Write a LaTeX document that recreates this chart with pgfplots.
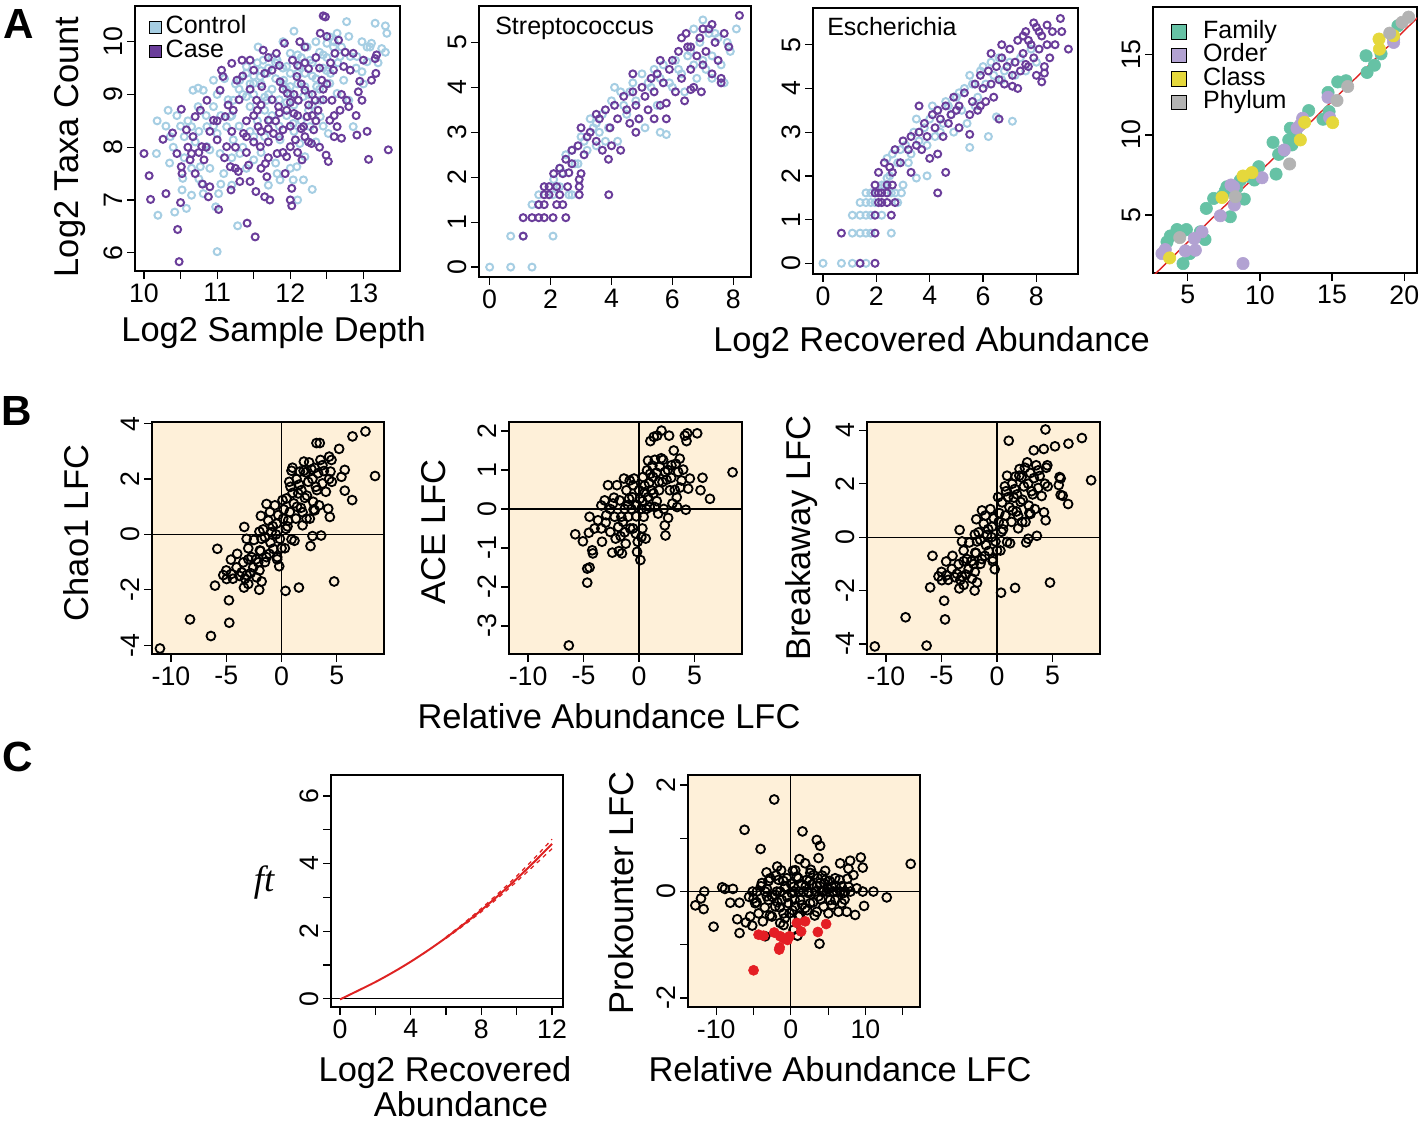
\documentclass[border=0pt]{standalone}
\usepackage{fontspec}
\setmainfont{Liberation Sans}
\newfontfamily\timesfont{Liberation Serif}
\usepackage{pgfplots}
\pgfplotsset{compat=1.18}

\definecolor{ctrl}{RGB}{166,206,227}
\definecolor{casec}{RGB}{106,61,154}
\definecolor{fam}{RGB}{102,194,165}
\definecolor{ord}{RGB}{178,162,210}
\definecolor{cls}{RGB}{229,216,60}
\definecolor{phy}{RGB}{179,179,179}
\definecolor{bgc}{RGB}{254,240,217}
\definecolor{redpt}{RGB}{228,30,36}
\definecolor{redline}{RGB}{222,34,34}

\newcommand\tickfont{\fontsize{19}{19}\selectfont}
\newcommand\labfont{\fontsize{24.5}{24.5}\selectfont}
\newcommand\txtfont{\fontsize{17.8}{17.8}\selectfont}

\pgfplotsset{
 Rax/.style={
  scale only axis, anchor=north west,
  axis line style={line width=1.1pt},
  tick style={black, line width=0.9pt},
  tick align=outside, major tick length=2mm,
  xtick pos=left, ytick pos=left,
  tick label style={font=\tickfont},
  xticklabel style={inner sep=3pt},
  yticklabel style={rotate=90, anchor=south, inner sep=3pt},
  /pgf/number format/assume math mode=true,
 },
 Aopen/.style={only marks, mark=o, mark size=2.5pt, mark options={line width=1.4pt}, forget plot},
 Bopen/.style={only marks, mark=o, mark size=3.15pt, mark options={line width=1.3pt}, black, forget plot},
 zline/.style={black, line width=0.9pt, forget plot},
 sqlegA/.style={legend image code/.code={\draw[black,line width=0.5pt,fill=#1] (0pt,-4.3pt) rectangle (8.6pt,4.3pt);}},
 sqlegD/.style={legend image code/.code={\draw[black,line width=0.5pt,fill=#1] (0pt,-5.2pt) rectangle (10.4pt,5.2pt);}},
}

\begin{document}
\begin{tikzpicture}
\useasboundingbox (0,0) rectangle (356mm,-281mm);

% ---------------- A1 ----------------
\begin{axis}[Rax, at={(33.75mm,-1.5mm)}, width=66.25mm, height=66.25mm,
 xmin=9.877, xmax=13.50, ymin=5.653, ymax=10.677,
 xtick={10,10.5,11,11.5,12,12.5,13}, xticklabels={10,,11,,12,,13},
 ytick={6,7,8,9,10}, yticklabels={6,7,8,9,10},
 legend style={at={(0.0528,0.962)}, anchor=north west, draw=none, fill=none, inner sep=0pt, outer sep=0pt,
   row sep=0.87pt, font=\txtfont, nodes={inner sep=0pt, text height=12.7pt, text depth=3.5pt},
   /tikz/every odd column/.append style={column sep=2.8pt}},
 legend cell align=left]
\addlegendimage{sqlegA=ctrl}
\addlegendentry{Control}
\addlegendimage{sqlegA=casec}
\addlegendentry{Case}
\addplot[Aopen, ctrl] coordinates {
(10.18,8.50)(10.17,7.88)(10.19,6.71)(10.33,8.70)(10.42,6.77)(10.36,8.20)(10.52,7.19)(10.53,7.41)(10.58,6.84)(10.65,7.09)
(10.67,9.08)(10.74,9.12)(10.81,9.08)(10.79,7.31)(10.81,7.12)(11.0,6.02)(11.02,7.12)(10.98,6.87)(11.28,6.51)(11.20,7.28)
(10.95,9.27)(10.65,8.39)(10.74,8.77)(10.86,8.39)(10.90,7.95)(11.09,7.50)(11.13,8.39)(11.22,8.89)(11.31,9.27)(11.40,9.53)
(11.50,9.21)(11.56,9.90)(11.63,9.65)(11.68,8.89)(11.70,7.28)(11.82,7.50)(11.86,7.38)(11.95,9.53)(12.0,9.78)(12.04,7.38)
(12.09,7.63)(12.18,7.38)(12.20,7.82)(12.13,9.53)(12.23,9.90)(12.27,9.65)(12.36,9.15)(12.41,8.89)(12.50,9.97)(12.54,10.09)
(12.59,9.90)(12.64,10.16)(12.68,9.72)(12.73,9.27)(12.77,10.38)(12.80,8.89)(12.86,8.39)(12.91,9.72)(12.98,10.0)(12.98,9.43)
(13.05,9.62)(13.09,9.90)(13.16,10.35)(13.25,9.87)(13.30,10.30)(13.32,10.16)(13.05,9.9)(13.11,9.97)(12.52,8.26)(12.41,8.58)
(12.18,8.96)(11.91,9.27)(11.68,9.40)(11.45,8.77)(11.22,8.14)(11.04,7.88)(11.31,7.88)(11.50,8.20)(11.86,8.14)(12.04,8.45)
(12.27,8.39)(12.54,9.21)(12.64,9.02)(12.82,9.72)(12.0,9.15)(11.82,9.65)(11.59,9.34)(11.40,8.96)(11.18,8.58)(10.95,8.77)
(10.86,8.01)(10.77,7.63)(11.0,8.26)(11.50,7.76)(11.72,8.51)(12.13,8.07)
(11.3,9.1)(11.4,9.4)(11.5,9.0)(11.55,9.6)(11.6,9.2)(11.65,8.7)(11.7,9.5)(11.75,9.1)(11.8,9.3)(11.85,8.9)
(11.9,9.5)(11.95,9.1)(12.0,9.4)(12.05,8.8)(12.1,9.2)(12.15,9.7)(12.2,9.4)(12.25,9.0)(12.3,9.6)(12.35,9.3)
(12.4,9.8)(12.45,9.5)(12.5,9.7)(12.55,9.4)(12.6,10.0)(12.65,9.6)(12.7,9.9)(11.2,8.6)(11.3,8.4)(11.35,8.0)
(11.45,8.3)(11.55,8.5)(11.65,8.2)(11.75,8.6)(11.85,8.4)(11.95,8.6)(12.05,8.3)(12.15,8.5)(12.25,8.7)(12.35,8.1)
(12.45,8.4)(11.0,9.0)(11.1,9.3)(11.15,8.9)(11.05,8.6)(10.95,8.4)(10.85,8.6)(10.75,8.3)(10.7,8.1)(10.6,8.5)
(10.55,8.2)(10.5,8.4)(10.4,8.0)(10.45,8.6)(10.3,8.4)(10.35,7.7)(10.55,7.8)(10.65,7.6)(10.75,7.4)(10.9,7.6)
(11.05,7.3)(11.2,7.8)(11.4,7.6)(11.6,7.9)(11.8,7.7)(12.0,7.6)(12.3,7.2)(12.1,7.0)(11.9,10.0)(12.05,10.2)
(12.35,10.0)(12.8,10.1)(12.9,9.5)(13.0,9.2)(13.2,9.6)(13.3,9.8)
(11.35,9.0)(11.45,9.2)(11.6,9.45)(11.7,9.0)(11.8,9.6)(11.9,9.2)(12.0,9.0)(12.1,9.4)(12.2,9.15)(12.3,9.35)
(12.4,9.1)(12.5,9.45)(11.25,9.2)(11.5,9.35)(11.75,9.7)(12.1,9.75)(12.45,9.75)(11.65,8.95)(11.95,8.85)(12.3,8.8)
};
\addplot[Aopen, casec] coordinates {
(10.0,7.88)(10.07,7.46)(10.09,7.01)(10.30,7.12)(10.26,8.15)(10.39,8.27)(10.46,6.44)(10.48,5.83)(10.50,6.95)(10.51,7.63)
(10.51,8.72)(10.45,7.88)(10.52,7.50)(10.58,8.33)(10.63,7.76)(10.65,7.88)(10.67,8.20)(10.70,8.58)(10.77,8.70)(10.79,8.01)
(10.82,7.76)(10.86,8.89)(10.88,7.06)(10.90,7.25)(10.95,8.51)(11.0,8.14)(11.02,6.82)(11.04,9.08)(11.06,9.46)(11.08,9.34)
(11.11,8.58)(11.13,8.01)(11.18,7.63)(11.19,7.19)(11.20,9.59)(11.22,8.70)(11.27,9.27)(11.29,7.54)(11.31,7.35)(11.34,9.65)
(11.36,8.26)(11.41,6.56)(11.43,7.66)(11.45,7.35)(11.50,9.46)(11.52,6.30)(11.53,7.16)(11.54,8.89)(11.56,8.39)(11.59,8.01)
(11.61,9.15)(11.63,9.84)(11.65,7.06)(11.66,7.69)(11.68,7.44)(11.70,8.51)(11.72,7.00)(11.75,9.46)(11.77,8.26)(11.81,9.78)
(11.82,7.88)(11.84,8.77)(11.86,9.24)(11.90,8.33)(11.92,9.97)(11.93,7.50)(11.95,7.82)(11.96,9.02)(12.0,8.01)(12.0,7.0)
(12.02,6.89)(12.02,7.22)(12.03,9.65)(12.05,8.64)(12.07,8.14)(12.09,9.34)(12.11,8.89)(12.13,10.0)(12.16,7.76)(12.18,8.39)
(12.20,9.08)(12.23,8.58)(12.25,9.49)(12.29,8.07)(12.32,8.33)(12.34,8.89)(12.38,8.70)(12.41,10.16)(12.43,9.27)(12.45,10.49)
(12.48,10.47)(12.49,7.85)(12.52,7.73)(12.54,8.51)(12.57,8.89)(12.59,9.46)(12.61,9.78)(12.64,8.39)(12.66,10.03)(12.68,8.70)
(12.70,8.17)(12.73,9.53)(12.77,8.89)(12.80,8.77)(12.82,9.46)(12.86,9.78)(12.91,8.23)(12.93,9.05)(12.98,8.89)(13.0,9.65)
(13.07,7.77)(13.11,9.27)(13.16,9.68)(13.17,9.40)(13.34,7.95)(13.18,9.75)
(11.3,8.9)(11.4,8.5)(11.45,9.1)(11.55,8.7)(11.6,8.3)(11.65,9.4)(11.7,8.1)(11.75,8.9)(11.8,8.5)(11.85,8.2)
(11.9,9.1)(11.95,8.7)(12.0,8.4)(12.05,9.0)(12.1,8.6)(12.15,9.2)(12.2,8.2)(12.25,8.8)(12.3,9.0)(12.35,8.5)
(12.4,9.5)(12.45,8.9)(12.5,9.2)(12.55,9.6)(12.6,8.6)(11.2,8.3)(11.25,8.0)(11.15,8.8)(11.0,8.5)(10.9,8.3)
(10.85,8.0)(10.75,7.9)(10.7,7.5)(10.6,8.0)(10.8,7.3)(11.1,7.8)(11.25,7.6)(11.4,7.9)(11.5,8.1)(11.6,7.6)
(11.7,7.8)(11.9,7.9)(12.1,7.9)(12.25,8.1)(12.4,8.0)(12.6,8.2)(12.7,9.0)(12.9,8.6)(13.05,8.3)(12.35,9.7)
(12.2,9.9)(12.1,9.55)(11.85,9.55)(11.7,9.7)(11.45,9.65)(11.35,9.35)(12.5,10.1)(12.75,9.8)(12.95,9.25)
(11.5,8.6)(11.7,8.35)(11.85,8.65)(12.0,8.85)(12.15,8.35)(12.3,8.6)(11.4,8.2)(11.6,8.8)(12.2,9.6)(12.45,9.1)
};
\end{axis}

% ---------------- A2 ----------------
\begin{axis}[Rax, at={(119.75mm,-1.5mm)}, width=68mm, height=67.75mm,
 xmin=-0.35, xmax=8.58, ymin=-0.22, ymax=5.81,
 xtick={0,2,4,6,8}, xticklabels={0,2,4,6,8},
 ytick={0,1,2,3,4,5}, yticklabels={0,1,2,3,4,5}]
\addplot[Aopen, ctrl] coordinates {
(0,0)(0.69,0)(1.39,0)(0.69,0.69)(1.1,0.69)(2.08,0.69)(1.39,1.39)(1.61,1.61)(2.08,1.61)(2.3,1.79)
(2.6,1.61)(2.7,1.61)(2.1,1.95)(2.3,2.2)(2.5,2.5)(2.8,2.3)(3.0,2.9)(3.2,2.6)(3.4,3.1)(3.5,2.7)
(3.7,3.4)(3.9,3.1)(4.0,3.7)(4.2,2.8)(4.3,3.9)(4.5,3.4)(4.7,4.1)(4.8,3.7)(5.0,4.3)(5.1,3.1)
(5.3,4.0)(5.5,3.6)(5.6,3.0)(5.7,4.5)(5.8,2.95)(5.9,4.1)(6.1,4.6)(6.3,4.3)(6.5,4.7)(6.7,4.5)
(6.9,5.0)(7.0,5.5)(7.1,4.4)(7.2,5.2)(7.3,4.7)(7.5,5.1)(7.6,4.5)(7.7,4.1)(7.9,4.8)(8.1,5.3)
(6.0,4.0)(5.4,4.4)(4.4,3.6)(3.6,3.0)(3.3,3.3)(4.1,4.0)(6.7,5.3)(7.4,5.2)(6.4,3.9)(7.3,4.2)
(3.8,2.8)(4.9,3.3)(2.9,2.3)(2.4,2.1)(6.8,4.2)(2.7,2.6)(3.1,2.8)(3.5,3.2)(4.6,3.9)(5.2,4.1)
(5.6,4.2)(6.2,4.4)(6.6,4.8)(7.0,4.6)(7.8,5.0)(2.2,1.79)(1.61,1.39)
};
\addplot[Aopen, casec] coordinates {
(1.1,0.69)(1.1,1.1)(1.39,1.1)(1.61,1.1)(1.79,1.1)(2.08,1.1)(2.5,1.1)(1.61,1.39)(1.79,1.39)(2.2,1.39)
(2.4,1.39)(1.79,1.61)(1.95,1.61)(2.3,1.61)(2.94,1.61)(3.91,1.61)(1.79,1.79)(1.95,1.79)(2.2,1.79)(2.56,1.79)
(2.94,1.79)(2.1,2.08)(2.3,2.2)(2.4,2.08)(2.94,1.95)(3.0,2.08)
(2.5,2.4)(2.7,2.6)(2.9,2.7)(3.1,2.5)(3.2,2.9)(3.3,3.0)(3.5,2.8)(3.6,3.3)(3.7,2.6)(3.8,3.5)
(3.9,2.4)(3.95,3.1)(4.0,2.7)(4.1,3.6)(4.2,3.3)(4.3,2.6)(4.4,3.8)(4.5,3.5)(4.6,3.2)(4.7,3.9)
(4.8,3.6)(4.9,3.3)(5.0,4.0)(5.1,3.8)(5.2,3.5)(5.3,4.2)(5.4,3.9)(5.5,4.3)(5.6,3.6)(5.7,4.1)
(5.8,3.3)(5.9,4.4)(6.0,4.6)(6.1,3.9)(6.2,4.8)(6.3,4.2)(6.4,3.7)(6.5,4.9)(6.6,4.4)(6.7,4.0)
(6.8,4.7)(6.9,5.1)(7.0,4.5)(7.1,4.8)(7.2,5.3)(7.3,4.3)(7.4,5.0)(7.5,4.6)(7.6,4.2)(7.7,5.2)
(7.85,4.9)(8.2,5.6)(7.0,5.3)(6.3,5.1)(5.6,4.6)(4.7,4.3)(3.5,3.4)(3.0,3.1)(2.7,2.3)(2.6,2.1)
(6.6,4.9)(6.95,3.9)(6.6,3.95)(7.6,4.1)(5.4,3.3)(5.8,3.65)(4.8,3.0)(7.3,5.4)(6.45,5.2)
};
\end{axis}

% ---------------- A3 ----------------
\begin{axis}[Rax, at={(203.25mm,-2.0mm)}, width=66.25mm, height=66.5mm,
 xmin=-0.375, xmax=9.56, ymin=-0.245, ymax=5.84,
 xtick={0,2,4,6,8}, xticklabels={0,2,4,6,8},
 ytick={0,1,2,3,4,5}, yticklabels={0,1,2,3,4,5}]
\addplot[Aopen, ctrl] coordinates {
(0,0)(0.69,0)(1.1,0)(1.61,0)(1.1,0.69)(1.39,0.69)(1.61,0.69)(1.79,0.69)(2.56,0.69)(1.1,1.1)
(1.39,1.1)(1.61,1.1)(1.79,1.1)(2.2,1.1)(1.39,1.39)(1.61,1.39)(1.79,1.39)(1.95,1.39)(2.8,1.39)(1.61,1.61)
(1.79,1.61)(2.56,1.61)(2.7,1.61)(2.94,1.61)(2.2,1.79)(2.3,1.79)(3.0,1.79)(2.4,1.95)(3.5,1.95)(3.9,2.0)
(2.4,2.4)(2.6,2.5)(2.8,2.3)(2.9,2.6)(3.1,2.7)(3.3,2.5)(3.4,3.0)(3.6,2.8)(3.8,3.1)(3.9,2.7)
(4.0,3.3)(4.2,2.9)(4.3,3.5)(4.5,3.2)(4.6,3.7)(4.8,3.4)(4.9,3.0)(5.0,3.8)(5.2,3.5)(5.3,4.0)
(5.4,3.2)(5.5,2.65)(5.6,4.1)(5.8,3.8)(5.9,4.4)(6.1,4.1)(6.2,2.9)(6.3,4.6)(6.4,4.3)(6.5,3.35)
(6.6,4.7)(6.8,4.4)(7.0,4.6)(7.1,3.25)(7.2,4.3)(7.4,4.7)(7.6,4.4)(7.8,4.9)(8.0,4.6)(4.7,3.6)
(5.1,3.9)(3.5,3.3)(4.4,3.0)(5.7,3.6)(6.0,4.5)(6.7,4.2)(2.5,2.0)(3.2,2.3)(4.1,3.6)(5.5,4.3)
};
\addplot[Aopen, casec] coordinates {
(1.39,0)(1.95,0)(0.69,0.69)(1.95,0.69)(1.95,1.1)(2.56,1.1)(2.08,1.39)(2.2,1.39)(2.4,1.39)(2.7,1.39)
(1.95,1.61)(2.08,1.61)(2.2,1.61)(2.4,1.61)(4.3,1.61)(1.95,1.79)(2.4,1.79)(2.6,1.79)(2.08,2.08)(2.6,2.08)
(3.3,2.08)(4.6,2.08)
(2.3,2.3)(2.5,2.2)(2.7,2.6)(2.9,2.3)(3.0,2.8)(3.2,2.6)(3.3,2.9)(3.5,2.7)(3.6,3.0)(3.7,2.6)
(3.8,3.2)(3.9,2.9)(4.0,2.4)(4.1,3.4)(4.2,3.1)(4.3,2.5)(4.4,3.3)(4.5,2.9)(4.6,3.6)(4.7,3.2)
(4.8,3.4)(4.9,3.8)(5.0,3.5)(5.1,3.1)(5.3,3.9)(5.5,3.4)(5.5,2.95)(5.6,3.7)(5.7,4.1)(5.8,3.5)
(5.9,4.3)(6.0,4.0)(6.1,3.7)(6.2,4.4)(6.3,4.1)(6.4,3.8)(6.5,4.5)(6.6,4.2)(6.7,4.7)(6.8,4.1)
(6.9,4.5)(7.0,4.9)(7.1,4.3)(7.2,4.6)(7.3,5.1)(7.4,4.4)(7.5,4.8)(7.6,5.3)(7.7,4.5)(7.8,5.0)
(7.9,4.7)(8.0,5.4)(8.1,4.9)(8.2,5.2)(8.3,4.5)(8.4,5.0)(8.5,4.7)(8.6,5.3)(8.7,5.0)(8.9,5.6)
(8.95,5.3)(9.2,4.9)(8.2,4.15)(8.3,4.35)(7.6,4.55)(7.1,4.05)(6.6,3.3)(3.6,3.6)(4.3,3.5)(5.1,3.6)
(7.9,5.5)(8.0,4.3)(6.7,5.0)(7.3,4.0)(7.7,5.1)(8.4,5.45)(5.9,3.6)(6.3,4.8)(7.5,5.2)(8.1,5.3)
};
\end{axis}

% ---------------- A4 ----------------
\begin{axis}[Rax, at={(288.25mm,-1.75mm)}, width=66mm, height=66.5mm,
 xmin=2.60, xmax=20.88, ymin=1.39, ymax=17.98,
 xtick={5,10,15,20}, xticklabels={5,10,15,20},
 ytick={5,10,15}, yticklabels={5,10,15},
 legend style={at={(0.068,0.9496)}, anchor=north west, draw=none, fill=none, inner sep=0pt, outer sep=0pt,
   row sep=0.5pt, font=\txtfont, nodes={inner sep=0pt, text height=12.7pt, text depth=3.5pt},
   /tikz/every odd column/.append style={column sep=12pt}},
 legend cell align=left]
\addlegendimage{sqlegD=fam}\addlegendentry{Family}
\addlegendimage{sqlegD=ord}\addlegendentry{Order}
\addlegendimage{sqlegD=cls}\addlegendentry{Class}
\addlegendimage{sqlegD=phy}\addlegendentry{Phylum}
\addplot[only marks, mark=*, mark size=4.4pt, fam, mark options={draw=none}, forget plot] coordinates {
(3.57,3.33)(4.26,4.10)(4.68,1.98)(5.14,2.60)(4.91,4.10)(6.29,5.42)(6.20,3.48)(6.80,6.04)(7.72,6.77)(7.95,4.90)
(8.92,6.0)(8.65,7.19)(9.62,7.19)(9.92,8.02)(10.91,9.54)(11.12,7.56)(11.30,8.79)(12.11,10.42)(12.22,9.38)(12.0,9.69)
(13.38,11.52)(14.37,10.98)(14.72,12.65)(14.79,11.46)(15.39,13.31)(15.96,13.38)(17.35,14.94)(17.42,13.90)(17.93,14.35)(18.39,15.06)
(19.56,16.81)(3.8,3.7)(7.6,6.5)(8.4,6.7)(4.5,3.85)(5.88,3.96)(7.4,6.2)(9.3,7.4)(11.6,9.0)(12.5,10.0)
};
\addplot[only marks, mark=*, mark size=4.4pt, ord, mark options={draw=none}, forget plot] coordinates {
(3.22,2.60)(3.45,2.85)(4.84,2.77)(5.53,2.81)(5.46,3.54)(5.99,3.96)(7.26,4.96)(8.0,6.88)(8.23,5.63)(8.83,1.98)
(10.15,7.33)(11.69,9.06)(12.8,10.63)(12.96,11.04)(14.72,12.35)(14.83,11.08)(19.26,15.77)(19.26,15.98)(8.18,6.77)(12.57,10.42)
};
\addplot[only marks, mark=*, mark size=4.4pt, cls, mark options={draw=none}, forget plot] coordinates {
(3.75,2.33)(7.38,6.10)(8.83,7.44)(9.45,7.65)(12.8,9.69)(13.1,10.79)(15.04,10.77)(18.25,15.98)(18.28,15.35)(19.26,16.19)
};
\addplot[only marks, mark=*, mark size=4.4pt, phy, mark options={draw=none}, forget plot] coordinates {
(4.45,3.60)(8.3,6.15)(12.06,8.19)(15.34,12.15)(16.08,13.02)(18.99,16.35)(19.84,17.02)(20.3,17.35)
};
\addplot[redline, line width=1pt, forget plot] coordinates {(2.0,0.67) (21.5,17.83)};
\end{axis}

% ---------------- B1 ----------------
\begin{axis}[Rax, at={(38mm,-105.5mm)}, width=58mm, height=58mm, axis background/.style={fill=bgc},
 xmin=-11.72, xmax=9.27, ymin=-4.32, ymax=4.06,
 xtick={-10,-5,0,5}, xticklabels={-10,-5,0,5},
 ytick={-4,-2,0,2,4}, yticklabels={-4,-2,0,2,4}]
\addplot[zline] coordinates {(0,-10) (0,10)};
\addplot[zline] coordinates {(-20,0) (20,0)};
\addplot[Bopen] coordinates {
(-11.0,-4.12)(-8.28,-3.07)(-6.39,-3.67)(-4.73,-3.19)(-4.76,-2.38)(-5.81,-0.52)(-6.02,-1.85)(-5.27,-1.47)(-4.97,-1.61)(-4.55,-1.43)
(-4.58,-0.91)(-4.07,-1.19)(-4.01,-0.70)(-3.61,-1.37)(-3.46,-1.01)(-3.40,-1.92)(-3.16,-1.47)(-3.01,-1.79)(-3.37,0.27)(-3.16,-0.16)
(-3.01,-0.50)(-2.71,-0.82)(-2.56,-1.19)(-2.26,-1.55)(-2.02,-2.0)(-2.11,-1.01)(-1.96,-0.58)(-1.81,-0.16)(-1.87,0.67)(-1.66,0.18)
(-1.51,-0.10)(-1.36,1.10)(-1.36,-0.82)(-1.05,0.81)(-0.90,0.08)(-0.75,-0.52)(-0.60,1.05)(-0.45,0.39)(-0.39,-0.82)(-0.21,-1.15)
(-0.15,-0.16)(0.09,1.24)(0.15,0.57)(0.30,-0.50)(0.36,-2.04)(0.45,1.30)(0.54,0.29)(0.75,0.81)(0.81,1.72)(0.90,-0.18)
(0.99,2.41)(1.11,1.12)(1.17,-0.23)(1.30,0.57)(1.36,2.0)(1.51,1.48)(1.57,-1.92)(1.66,2.27)(1.75,0.96)(1.90,0.33)
(2.02,2.63)(2.11,1.32)(2.20,2.24)(2.26,0.57)(2.41,1.90)(2.56,0.57)(2.62,-0.42)(2.71,2.35)(2.80,-0.06)(2.86,1.18)
(3.01,0.87)(3.10,1.72)(3.16,3.30)(3.46,3.30)(3.31,2.21)(3.40,1.05)(3.52,2.69)(3.58,-0.04)(3.70,1.84)(3.83,2.29)
(4.01,1.54)(4.22,0.93)(4.31,2.81)(4.37,0.63)(4.43,2.27)(4.52,2.69)(4.55,1.90)(4.76,-1.70)(5.21,3.09)(5.42,2.08)
(5.72,2.33)(5.72,1.58)(6.42,3.54)(6.39,1.24)(7.59,3.72)(8.46,2.11)
(-2.5,-0.2)(-2.0,0.1)(-1.2,0.5)(-0.8,0.3)(-0.3,0.7)(0.2,0.9)(0.6,0.5)(1.0,1.5)(1.4,1.0)(1.8,1.6)
(2.3,1.4)(2.8,2.0)(3.2,1.6)(-1.0,-0.3)(-0.5,0.0)(0.0,-0.5)(0.4,0.2)(-3.8,-1.5)(-3.3,-1.6)(-2.8,-1.4)
(-2.3,-0.9)(-1.9,-0.6)(-1.5,-1.0)(-1.1,-0.7)(0.7,1.9)(1.6,1.8)(2.5,2.6)(3.7,2.5)(4.3,2.0)(2.9,0.9)
(1.9,0.8)(-0.4,-0.9)(-4.4,-1.6)(-5.0,-1.3)(-3.0,-0.9)(-2.0,-1.3)(-1.8,-1.7)(0.9,2.3)(2.0,2.3)(3.0,2.4)
};
\end{axis}

% ---------------- B2 ----------------
\begin{axis}[Rax, at={(127.25mm,-105.5mm)}, width=58.25mm, height=58mm, axis background/.style={fill=bgc},
 xmin=-11.72, xmax=9.28, ymin=-3.72, ymax=2.23,
 xtick={-10,-5,0,5}, xticklabels={-10,-5,0,5},
 ytick={-3,-2,-1,0,1,2}, yticklabels={-3,-2,-1,0,1,2}]
\addplot[zline] coordinates {(0,-10) (0,10)};
\addplot[zline] coordinates {(-20,0) (20,0)};
\addplot[Bopen] coordinates {
(-6.33,-3.50)(-5.75,-0.65)(-5.06,-0.83)(-4.67,-1.53)(-4.46,-1.50)(-4.67,-1.89)(-4.46,-0.20)(-4.52,-0.61)(-4.22,-1.06)(-4.16,-1.14)
(-4.01,-0.50)(-3.70,-0.29)(-3.40,0.09)(-3.40,-0.50)(-3.34,-0.84)(-3.10,0.22)(-2.95,-0.16)(-2.80,0.61)(-2.59,-0.59)(-2.41,-1.12)
(-2.35,0.14)(-2.26,0.29)(-2.20,-0.20)(-2.11,-0.76)(-1.99,0.61)(-1.87,-0.46)(-1.81,-1.08)(-1.75,0.22)(-1.66,-0.70)(-1.54,-1.14)
(-1.45,-0.33)(-1.36,0.78)(-1.30,0.0)(-1.20,-0.89)(-1.14,0.48)(-0.99,-0.20)(-0.90,0.26)(-0.84,0.73)(-0.69,0.0)(-0.54,-0.50)
(-0.54,0.61)(-0.45,0.78)(-0.30,-0.63)(-0.24,-0.19)(-0.18,-1.10)(-0.12,-0.84)(0.0,0.48)(0.06,0.26)(0.12,-1.31)(0.21,0.0)
(0.21,-0.72)(0.30,-0.50)(0.36,0.82)(0.42,-0.20)(0.51,0.43)(0.60,-0.76)(0.66,0.0)(0.72,0.99)(0.81,1.24)(0.90,0.66)
(0.96,0.05)(1.02,1.74)(1.11,0.48)(1.20,1.11)(1.27,0.82)(1.33,1.85)(1.42,1.26)(1.42,0.05)(1.57,0.93)(1.63,1.88)
(1.72,-0.12)(1.81,0.48)(1.87,1.09)(2.02,2.01)(2.11,0.69)(2.17,1.26)(2.23,0.0)(2.32,-0.42)(2.35,0.95)(2.38,-0.68)
(2.47,0.75)(2.62,-0.23)(2.71,1.88)(2.77,0.48)(2.92,1.12)(3.01,0.14)(3.13,1.50)(3.22,0.49)(3.31,1.16)(3.43,0.05)
(3.52,0.95)(3.67,1.29)(3.83,0.73)(3.98,1.01)(4.13,1.88)(4.22,-0.02)(4.28,1.74)(4.34,1.94)(4.43,0.52)(4.58,0.78)
(5.24,1.94)(5.54,0.48)(5.72,0.80)(6.39,0.26)(8.43,0.94)
(-1.0,0.1)(-0.6,0.3)(-0.2,0.1)(0.3,0.2)(0.8,0.3)(1.3,0.4)(1.8,0.7)(2.6,1.0)(-1.6,-0.2)(-2.6,0.0)
(1.0,0.9)(2.0,1.3)(3.4,0.3)(-0.8,-0.5)(-1.3,-0.6)(0.5,0.6)(1.6,0.2)(2.9,0.8)(3.7,0.55)(-3.0,-0.35)
};
\end{axis}

% ---------------- B3 ----------------
\begin{axis}[Rax, at={(216.75mm,-105.5mm)}, width=58.25mm, height=58mm, axis background/.style={fill=bgc},
 xmin=-11.7, xmax=9.26, ymin=-4.375, ymax=4.31,
 xtick={-10,-5,0,5}, xticklabels={-10,-5,0,5},
 ytick={-4,-2,0,2,4}, yticklabels={-4,-2,0,2,4}]
\addplot[zline] coordinates {(0,-10) (0,10)};
\addplot[zline] coordinates {(-20,0) (20,0)};
\addplot[Bopen] coordinates {
(-11.0,-4.09)(-8.23,-3.0)(-6.34,-4.06)(-4.68,-3.08)(-4.76,-2.38)(-5.81,-0.70)(-6.02,-1.88)(-5.27,-1.47)(-4.97,-1.61)(-4.55,-1.43)
(-4.58,-0.91)(-4.07,-1.19)(-4.01,-0.70)(-3.61,-1.37)(-3.46,-1.01)(-3.40,-1.92)(-3.16,-1.47)(-3.01,-1.79)(-3.37,0.27)(-3.16,-0.16)
(-3.01,-0.50)(-2.71,-0.82)(-2.56,-1.19)(-2.26,-1.55)(-2.02,-2.0)(-2.11,-1.01)(-1.96,-0.58)(-1.81,-0.16)(-1.87,0.67)(-1.66,0.18)
(-1.51,-0.10)(-1.36,1.0)(-1.36,-0.82)(-1.05,0.81)(-0.90,0.08)(-0.75,-0.52)(-0.60,1.05)(-0.45,0.39)(-0.39,-0.82)(-0.21,-1.20)
(-0.15,-0.16)(0.09,1.50)(0.15,0.57)(0.30,-0.50)(0.36,-2.08)(0.45,1.30)(0.54,0.29)(0.75,0.81)(0.81,1.72)(0.90,-0.18)
(1.05,3.61)(1.11,1.12)(1.17,-0.23)(1.30,0.57)(1.36,2.0)(1.51,1.48)(1.62,-1.90)(1.66,2.27)(1.75,0.96)(1.90,0.33)
(2.02,2.55)(2.11,1.32)(2.20,2.24)(2.26,0.57)(2.41,1.90)(2.56,0.57)(2.62,-0.20)(2.71,2.80)(2.80,-0.06)(2.86,1.18)
(3.01,0.87)(3.10,1.72)(3.30,3.25)(3.31,2.21)(3.40,1.05)(3.52,2.69)(3.58,0.05)(3.70,1.84)(3.83,2.29)(4.20,3.30)
(4.01,1.54)(4.22,0.93)(4.35,4.03)(4.37,0.63)(4.43,2.60)(4.52,2.69)(4.55,1.90)(4.76,-1.70)(5.21,3.40)(5.62,2.25)
(5.72,2.20)(5.72,1.58)(6.42,3.50)(6.39,1.24)(7.63,3.71)(8.46,2.13)(5.55,1.95)(5.90,1.55)
(-2.5,-0.2)(-2.0,0.1)(-1.2,0.5)(-0.8,0.3)(-0.3,0.7)(0.2,0.9)(0.6,0.5)(1.0,1.5)(1.4,1.0)(1.8,1.6)
(2.3,1.4)(2.8,2.0)(3.2,1.6)(-1.0,-0.3)(-0.5,0.0)(0.0,-0.5)(0.4,0.2)(-3.8,-1.5)(-3.3,-1.6)(-2.8,-1.4)
(-2.3,-0.9)(-1.9,-0.6)(-1.5,-1.0)(-1.1,-0.7)(0.7,1.9)(1.6,1.8)(2.5,2.6)(3.7,2.5)(4.3,2.0)(2.9,0.9)
(1.9,0.8)(-0.4,-0.9)(-4.4,-1.6)(-5.0,-1.3)(-3.0,-0.9)(-2.0,-1.3)(-1.8,-1.7)(0.9,2.3)(2.0,2.3)(3.0,2.4)
};
\end{axis}

% ---------------- C1 ----------------
\begin{axis}[Rax, at={(82.75mm,-193.75mm)}, width=58mm, height=58mm,
 xmin=-0.51, xmax=12.62, ymin=-0.245, ymax=6.62,
 xtick={0,2,4,6,8,10,12}, xticklabels={0,,4,,8,,12},
 ytick={0,1,2,3,4,5,6}, yticklabels={0,,2,,4,,6}]
\addplot[zline] coordinates {(-2,0) (14,0)};
\addplot[redline, line width=1.4pt, smooth, forget plot] coordinates {
(0,-0.02)(1,0.234)(2,0.494)(3,0.782)(4,1.096)(5,1.438)(6,1.806)(7,2.202)(8,2.624)(9,3.074)(10,3.55)(11,4.054)(12,4.584)};
\addplot[redline, line width=0.9pt, dashed, smooth, forget plot] coordinates {
(6,1.826)(7,2.235)(8,2.674)(9,3.14)(10,3.63)(11,4.16)(12,4.72)};
\addplot[redline, line width=0.9pt, dashed, smooth, forget plot] coordinates {
(6,1.786)(7,2.17)(8,2.574)(9,3.01)(10,3.47)(11,3.95)(12,4.44)};
\end{axis}

% ---------------- C2 ----------------
\begin{axis}[Rax, at={(172mm,-193.75mm)}, width=58mm, height=58mm, axis background/.style={fill=bgc},
 xmin=-13.79, xmax=17.32, ymin=-2.17, ymax=2.19,
 xtick={-10,-5,0,5,10,15}, xticklabels={-10,,0,,10,},
 ytick={-2,-1,0,1,2}, yticklabels={-2,,0,,2}]
\addplot[zline] coordinates {(0,-10) (0,10)};
\addplot[zline] coordinates {(-20,0) (20,0)};
\addplot[Bopen] coordinates {
(-2.23,1.73)(-6.21,1.16)(-4.06,0.80)(1.56,1.13)(3.48,0.97)(3.93,0.86)(3.71,0.63)(16.07,0.52)(9.38,0.64)(9.64,0.45)
(6.61,0.53)(7.95,0.58)(7.72,0.43)(7.59,0.24)(8.39,0.31)(1.16,0.61)(1.92,0.53)(2.68,0.41)(4.60,0.39)(5.94,0.25)
(-1.83,0.47)(-3.26,0.36)(0.27,0.39)(-12.81,-0.26)(-12.05,-0.13)(-11.61,0.0)(-11.70,-0.33)(-10.36,-0.66)(-9.20,0.08)(-8.84,0.05)
(-7.77,0.05)(-8.13,-0.21)(-6.88,-0.21)(-7.19,-0.52)(-6.88,-0.78)(-6.03,-0.58)(-5.45,-0.47)(-5.18,-0.64)(-5.13,0.0)(-5.0,-0.13)
(-4.78,-0.22)(-4.33,-0.41)(-3.75,-0.56)(-3.44,-0.84)(-3.88,0.16)(-3.44,0.0)(-2.99,-0.16)(-2.77,0.25)(-2.54,-0.47)(-2.10,-0.28)
(-1.88,0.0)(-1.65,0.22)(-1.43,-0.59)(-1.21,-0.16)(-0.98,-0.41)(-0.76,0.09)(-0.54,0.25)(-0.31,-0.22)(-0.18,-0.41)(0.13,-0.03)
(0.36,0.09)(0.58,-0.28)(0.80,0.28)(1.03,0.0)(1.03,-0.47)(1.25,-0.16)(1.47,0.14)(1.70,0.0)(1.92,-0.31)(2.14,0.22)
(2.37,-0.03)(2.59,-0.22)(2.81,0.13)(3.04,0.31)(3.26,0.0)(3.48,-0.38)(3.71,-0.09)(3.93,0.16)(4.15,0.0)(4.38,-0.28)
(4.60,0.22)(4.82,0.0)(5.04,-0.41)(5.27,-0.16)(5.49,0.09)(5.71,0.0)(5.94,-0.16)(6.16,0.0)(6.38,-0.38)(6.52,0.22)
(6.83,-0.22)(7.05,-0.03)(7.50,-0.38)(7.72,0.09)(8.62,-0.44)(8.84,0.06)(9.64,0.0)(9.82,-0.27)(11.07,0.0)(12.86,-0.11)
(3.84,-0.98)(0.89,-0.83)(0.36,-0.72)(-0.98,-0.63)(-2.10,-0.06)(-3.21,-0.09)(-1.43,0.0)(0.45,0.0)(2.37,0.0)(4.38,0.0)
(6.61,0.0)(7.28,0.0)(-4.55,0.0)
(-4,0.1)(-3.5,-0.3)(-3,0.2)(-2.5,-0.1)(-2,0.3)(-1.5,-0.3)(-1,0.2)(-0.5,-0.1)(0,0.15)(0.5,-0.15)
(1,0.25)(1.5,-0.25)(2,0.1)(2.5,0.2)(3,-0.2)(3.5,0.1)(4,-0.15)(4.5,0.15)(5,0.05)(5.5,-0.25)
(6,0.1)(-2.8,-0.45)(-1.8,-0.2)(-0.8,-0.5)(0.2,-0.35)(1.2,-0.45)(2.2,-0.35)(3.2,-0.45)(4.2,0.3)(-3.2,0.05)
(-4.6,-0.2)(-1.3,0.4)(0.6,0.4)(2.6,0.35)(3.6,0.25)(5.2,0.2)(6.8,0.1)(7.2,-0.15)(8.0,0.0)(-5.6,-0.1)
};
\addplot[only marks, mark=*, mark size=3.6pt, redpt, mark options={draw=none}, forget plot] coordinates {
(-5.0,-1.48)(-4.33,-0.81)(-3.66,-0.83)(-2.23,-0.77)(-1.56,-1.09)(-1.50,-1.05)(-1.43,-0.84)(-0.45,-0.91)(-0.18,-0.84)(0.80,-0.59)
(1.38,-0.75)(1.92,-0.56)(3.62,-0.76)(4.73,-0.61)(-0.98,-0.88)
};
\end{axis}

% ---------------- texts ----------------
\tikzset{every node/.append style={inner sep=0pt}}
\node[font=\bfseries\fontsize{30}{30}\selectfont, anchor=base east] at (8.5mm,-9.5mm) {A};
\node[font=\bfseries\fontsize{30}{30}\selectfont, anchor=base east] at (8.0mm,-106.25mm) {B};
\node[font=\bfseries\fontsize{30}{30}\selectfont, anchor=base east] at (8.25mm,-192.75mm) {C};

\node[font=\labfont, rotate=90, anchor=base] at (19.5mm,-36.75mm) {Log2 Taxa Count};
\node[font=\labfont, anchor=base] at (68.4mm,-85.4mm) {Log2 Sample Depth};
\node[font=\labfont, anchor=base] at (232.9mm,-87.9mm) {Log2 Recovered Abundance};
\node[font=\txtfont, anchor=base west] at (123.75mm,-8.5mm) {Streptococcus};
\node[font=\txtfont, anchor=base west] at (206.75mm,-8.75mm) {Escherichia};

\node[font=\labfont, rotate=90, anchor=base] at (22mm,-133.25mm) {Chao1 LFC};
\node[font=\labfont, rotate=90, anchor=base] at (111.25mm,-133mm) {ACE LFC};
\node[font=\labfont, rotate=90, anchor=base] at (202.5mm,-134.5mm) {Breakaway LFC};
\node[font=\labfont, anchor=base] at (152.25mm,-182mm) {Relative Abundance LFC};

\node[font=\timesfont\itshape\fontsize{26}{26}\selectfont] at (66mm,-220.75mm) {ft};
\node[font=\labfont, anchor=base] at (111.25mm,-270.3mm) {Log2 Recovered};
\node[font=\labfont, anchor=base] at (115.25mm,-279mm) {Abundance};
\node[font=\labfont, rotate=90, anchor=base] at (158.25mm,-223.25mm) {Prokounter LFC};
\node[font=\labfont, anchor=base] at (210mm,-270.25mm) {Relative Abundance LFC};
\end{tikzpicture}
\end{document}
